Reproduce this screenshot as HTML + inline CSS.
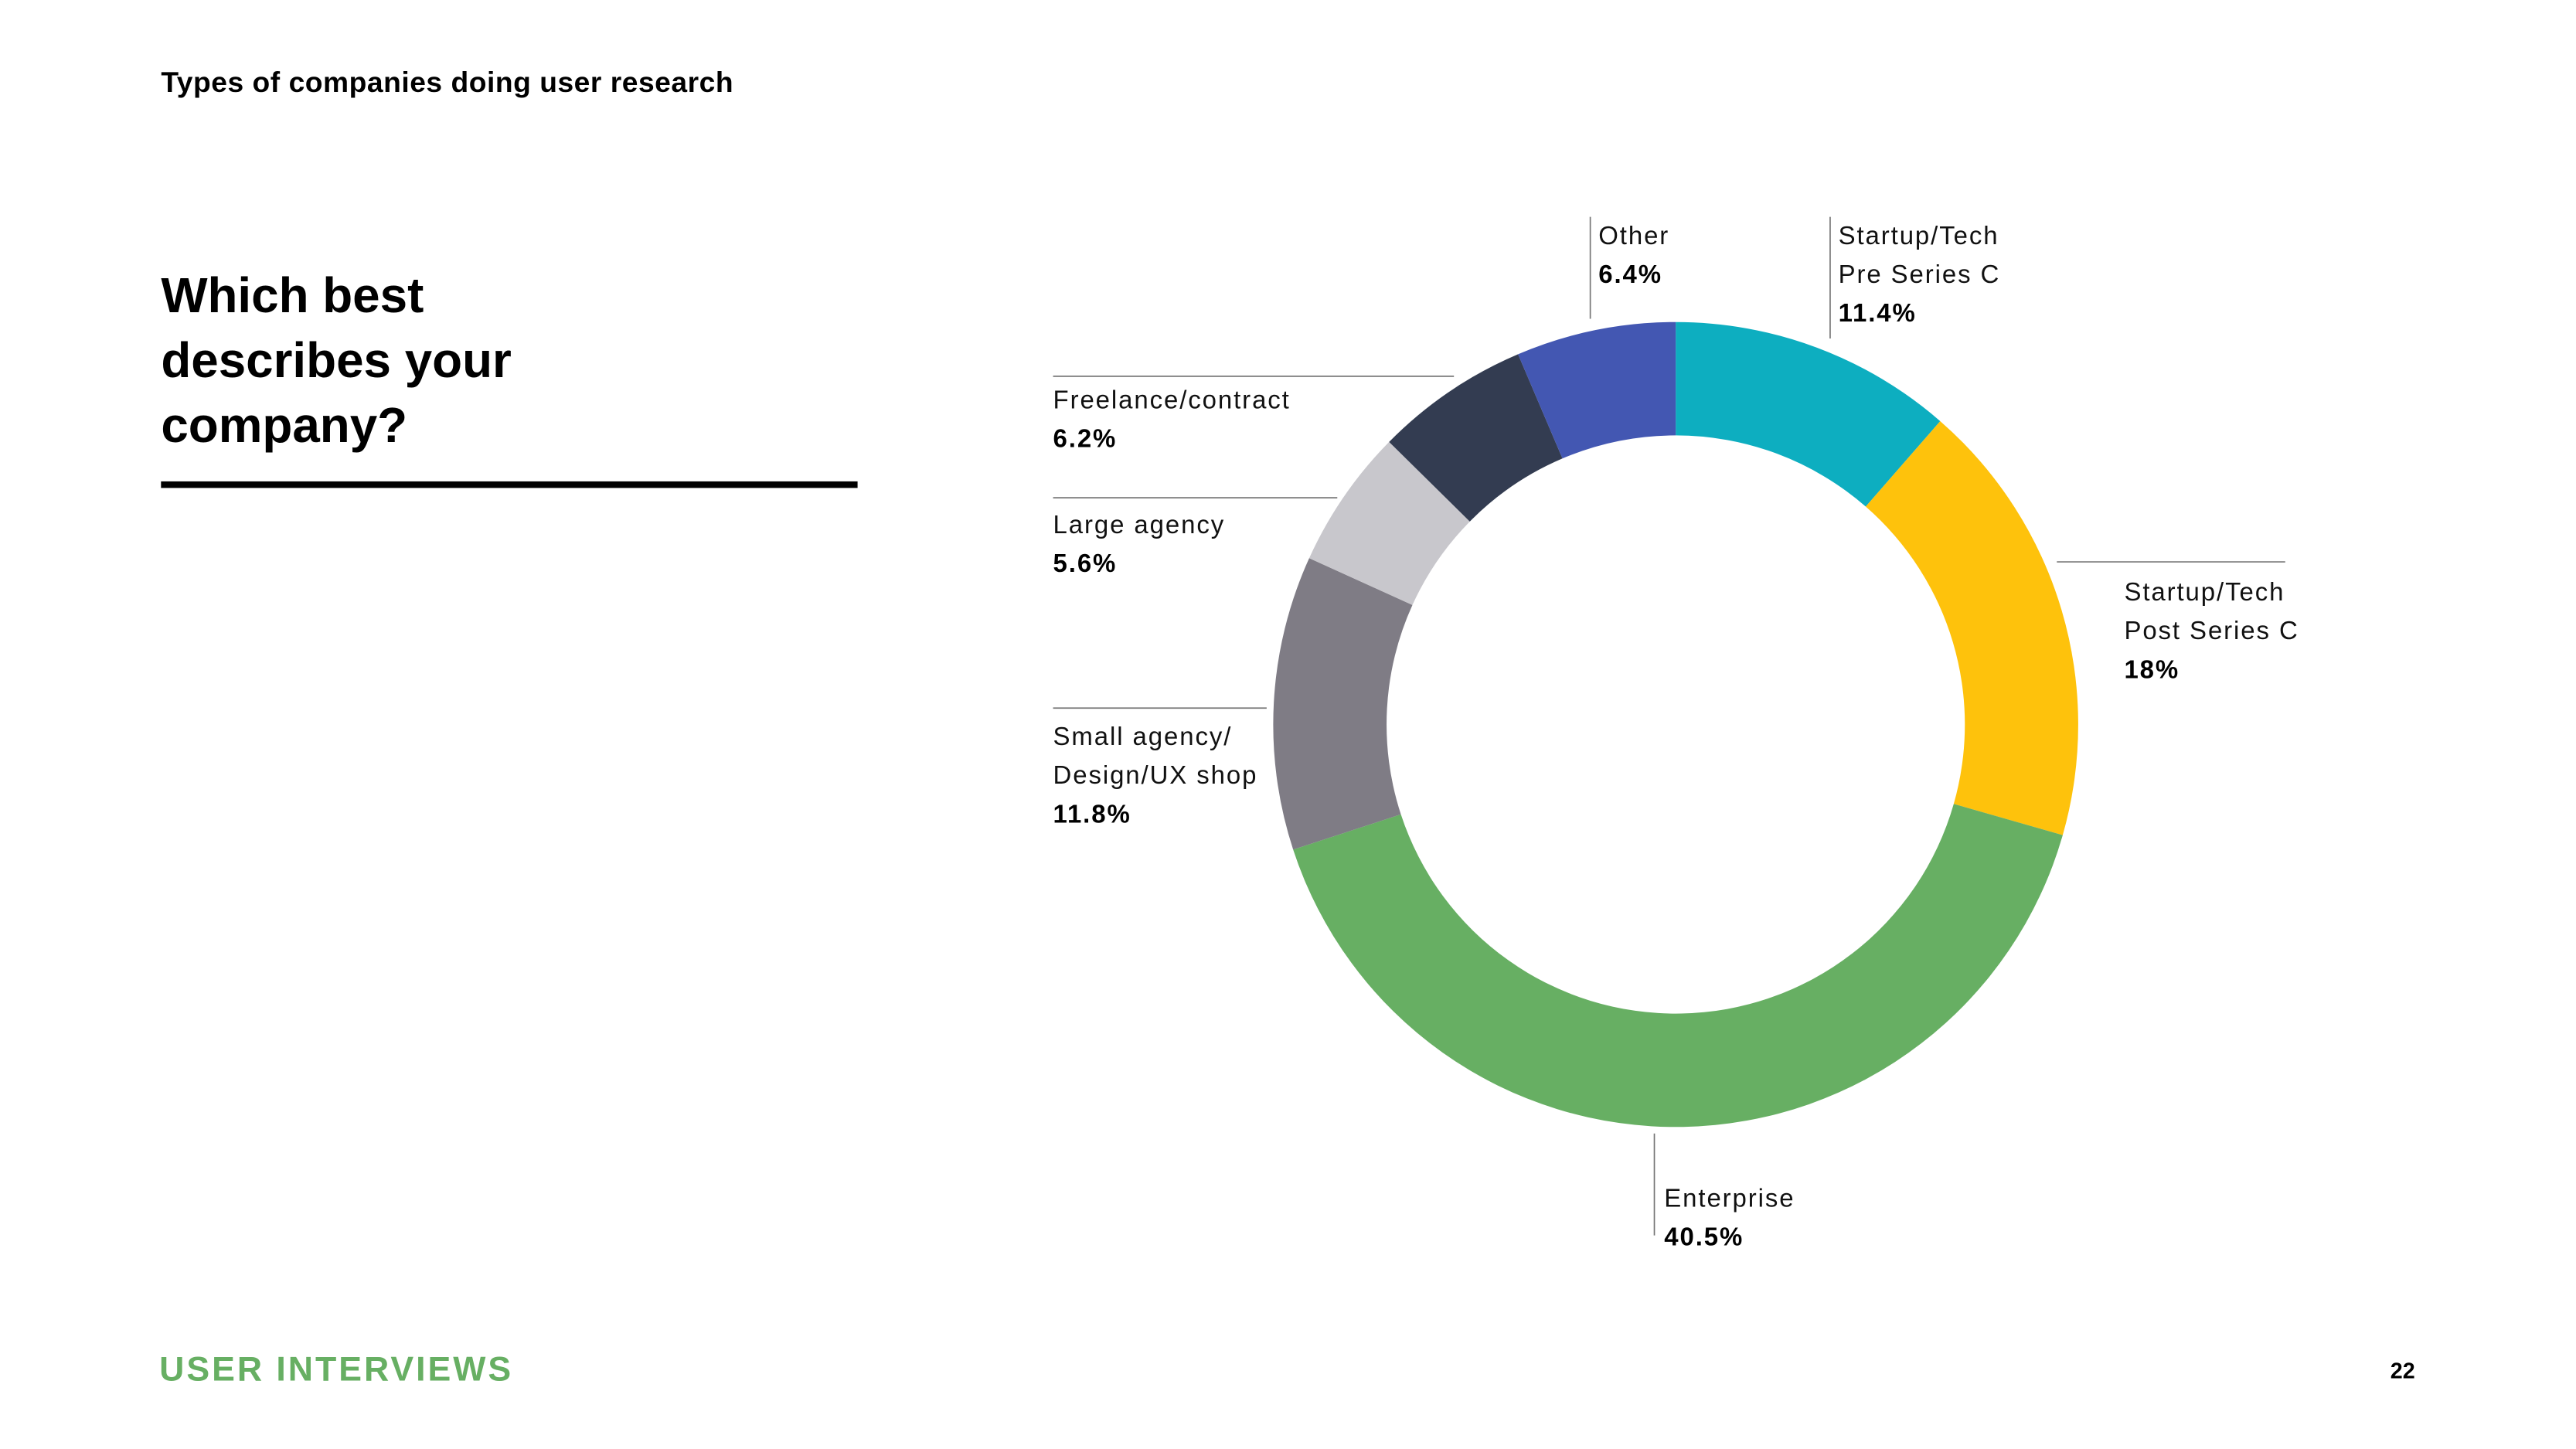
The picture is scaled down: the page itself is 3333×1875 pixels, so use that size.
<!DOCTYPE html>
<html><head><meta charset="utf-8"><style>
html,body{margin:0;padding:0;background:#fff;width:3333px;height:1875px;overflow:hidden}
svg{display:block}
text{font-family:"Liberation Sans",sans-serif}
</style></head><body>
<svg id="chart" width="3333" height="1875" viewBox="0 0 1568 882" xmlns="http://www.w3.org/2000/svg">
<rect width="1568" height="882" fill="#fff"/>
<text x="98" y="56" font-size="17.5" font-weight="bold" fill="#000" letter-spacing="0.25">Types of companies doing user research</text>
<g font-size="30" font-weight="bold" fill="#000">
<text x="98" y="190">Which best</text>
<text x="98" y="229.5">describes your</text>
<text x="98" y="269">company?</text>
</g>
<rect x="98" y="293" width="424" height="4" fill="#000"/>
<g id="donut"></g>
<g id="labels" font-size="15.5" fill="#111" letter-spacing="0.9"></g>
<text x="97" y="840.5" font-size="21" font-weight="bold" fill="#67AF63" letter-spacing="1.4">USER INTERVIEWS</text>
<text x="1470" y="839" font-size="13.5" font-weight="bold" fill="#000" text-anchor="end">22</text>
</svg>
<script>
const categories = ["Startup/Tech Pre Series C","Startup/Tech Post Series C","Enterprise","Small agency/ Design/UX shop","Large agency","Freelance/contract","Other"];
const values = [11.4, 18, 40.5, 11.8, 5.6, 6.2, 6.4];
const valueLabels = ["11.4%","18%","40.5%","11.8%","5.6%","6.2%","6.4%"];
const colors = ["#0DAEC0","#FEC20C","#67AF63","#7F7C85","#C8C7CC","#333C51","#4357B2"];

const NS = "http://www.w3.org/2000/svg";
const cx = 1020, cy = 441, R = 245, r = 176;
const total = values.reduce((a,b)=>a+b,0);
function angle(v){ return v/total*2*Math.PI; }
function pt(a, rad){ return [cx + rad*Math.sin(a), cy - rad*Math.cos(a)]; }
const donut = document.getElementById('donut');
let acc = 0;
values.forEach((v,i)=>{
  const a0 = angle(acc), a1 = angle(acc+v); acc += v;
  const large = (a1-a0) > Math.PI ? 1 : 0;
  const [x0,y0]=pt(a0,R),[x1,y1]=pt(a1,R),[x2,y2]=pt(a1,r),[x3,y3]=pt(a0,r);
  const p = document.createElementNS(NS,'path');
  p.setAttribute('d',`M${x0},${y0}A${R},${R} 0 ${large} 1 ${x1},${y1}L${x2},${y2}A${r},${r} 0 ${large} 0 ${x3},${y3}Z`);
  p.setAttribute('fill',colors[i]);
  
  
  donut.appendChild(p);
});

const layout = [
  {lines:["Startup/Tech","Pre Series C"], tx:1119, ty:143, line:[1114,132,1114,206]},
  {lines:["Startup/Tech","Post Series C"], tx:1293, ty:360, line:[1252,342,1391,342]},
  {lines:["Enterprise"], tx:1013, ty:729, line:[1007,690,1007,752]},
  {lines:["Small agency/","Design/UX shop"], tx:641, ty:448, line:[641,431,771,431]},
  {lines:["Large agency"], tx:641, ty:319, line:[641,303,814,303]},
  {lines:["Freelance/contract"], tx:641, ty:243, line:[641,229,885,229]},
  {lines:["Other"], tx:973, ty:143, line:[968,132,968,194]}
];
const lg = document.getElementById('labels');
layout.forEach((L,i)=>{
  const g = document.createElementNS(NS,'g');
  
  
  const ln = document.createElementNS(NS,'line');
  ln.setAttribute('x1',L.line[0]);ln.setAttribute('y1',L.line[1]);
  ln.setAttribute('x2',L.line[2]);ln.setAttribute('y2',L.line[3]);
  ln.setAttribute('stroke','#777');ln.setAttribute('stroke-width','0.8');
  
  
  g.appendChild(ln);
  const all = L.lines.concat([valueLabels[i]]);
  all.forEach((s,j)=>{
    const t = document.createElementNS(NS,'text');
    t.setAttribute('x',L.tx);
    t.setAttribute('y',L.ty + j*23.6 + 5.5);
    if(j===all.length-1){ t.setAttribute('font-weight','bold'); t.setAttribute('fill','#000'); }
    
    
    t.textContent = s;
    g.appendChild(t);
  });
  lg.appendChild(g);
});
</script>
</body></html>
